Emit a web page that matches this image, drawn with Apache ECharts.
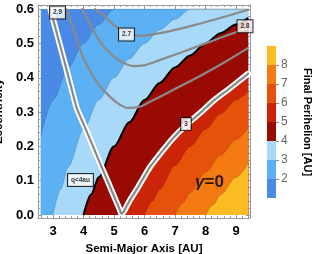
<!DOCTYPE html>
<html><head><meta charset="utf-8">
<script src="https://cdn.jsdelivr.net/npm/echarts@6/dist/echarts.min.js"></script>
<style>html,body{margin:0;padding:0;background:#fff}#c{width:312px;height:254px}</style>
</head><body><div id="c"></div>
<script>
// ---- data ----
const xTicks = [3, 4, 5, 6, 7, 8, 9];
const yTicks = [0, 0.1, 0.2, 0.3, 0.4, 0.5, 0.6];
const barTicks = [2, 3, 4, 5, 6, 7, 8];
const bandLevels = [1, 2, 3, 4, 5, 6, 7, 8, 9];
const bandColors = ['#4a8ae6', '#5cb0f4', '#a9d9f8', '#990b02', '#cc2406', '#e6520a', '#f47b12', '#fbbb22'];

// plotted region (semi-major axis, eccentricity)
const plotA = [2.6, 9.4];
const plotE = [0, 0.6];

// boundaries between perihelion bands, [a, e]
const edgeQ2 = [[2.6,0.23],[3.0,0.335],[3.5,0.43],[4.0,0.50],[4.5,0.555],[5.0,0.60],[5.5,0.60],[9.4,0.60]];
const edgeQ3 = [[3.0,0],[3.25,0.075],[3.5,0.14],[4.0,0.25],[4.5,0.335],[5.0,0.40],[5.5,0.455],[6.0,0.50],[6.5,0.54],[7.0,0.57],[7.5,0.60],[8.0,0.60],[9.4,0.60]];
const edgeQ4 = [[4.0,0],[4.25,0.06],[4.5,0.11],[5.0,0.20],[5.5,0.27],[6.0,0.335],[6.5,0.385],[7.0,0.43],[7.5,0.465],[8.0,0.50],[8.5,0.53],[9.0,0.555],[9.4,0.575]];
const edgeQ5 = [[5.28,0],[5.525,0.037],[5.754,0.069],[5.984,0.104],[6.18,0.133],[6.508,0.171],[6.934,0.217],[7.361,0.255],[7.82,0.290],[8.246,0.325],[8.803,0.363],[9.4,0.405]];
const edgeQ6 = [[6.0,0],[6.25,0.04],[6.5,0.075],[7.0,0.145],[7.5,0.20],[8.0,0.25],[8.5,0.295],[9.0,0.335],[9.4,0.36]];
const edgeQ7 = [[7.0,0],[7.25,0.035],[7.5,0.065],[8.0,0.125],[8.5,0.175],[9.0,0.22],[9.4,0.255]];
const edgeQ8 = [[8.0,0],[8.25,0.03],[8.5,0.06],[9.0,0.11],[9.4,0.15]];

// gray contours
const contour29 = [[3.43,0.60],[3.62,0.554],[3.79,0.507],[3.98,0.461],[4.21,0.420],[4.48,0.382],[4.77,0.353],[5.10,0.327],[5.46,0.312],[5.85,0.316],[6.18,0.330],[6.84,0.360],[7.82,0.405],[8.64,0.446],[9.40,0.487]];
const contour28 = [[3.95,0.60],[4.18,0.563],[4.44,0.519],[4.70,0.487],[4.97,0.464],[5.26,0.446],[5.62,0.434],[6.02,0.437],[6.51,0.452],[7.33,0.478],[8.15,0.505],[8.97,0.532],[9.40,0.546]];
const contour27 = [[4.38,0.60],[4.61,0.586],[4.87,0.563],[5.13,0.545],[5.43,0.531],[5.79,0.522],[6.18,0.525],[6.84,0.536],[7.66,0.554],[8.48,0.574],[9.40,0.598]];
const contour3 = [[2.915,0.60],[3.184,0.510],[3.446,0.423],[3.662,0.350],[3.777,0.312],[3.944,0.277],[4.223,0.219],[4.498,0.160],[4.777,0.102],[5.052,0.044],[5.193,0.015],[5.243,0.004],[5.311,0.009],[5.525,0.044],[5.754,0.076],[5.984,0.111],[6.180,0.140],[6.508,0.178],[6.934,0.224],[7.361,0.262],[7.820,0.297],[8.246,0.332],[8.803,0.370],[9.40,0.412]];

// label anchors [a, e, text]
const contourLabels = [[3.148,0.590,'2.9'],[5.41,0.526,'2.7'],[9.295,0.550,'2.8'],[7.36,0.265,'3'],[3.90,0.102,'q<4au']];
const gammaLabel = [[8.13,0.096,'γ=0']];

// ---- chart ----
const FONT = "'Liberation Sans', Arial, sans-serif";
const frameColor = '#999';
const frameA = [2.508, 9.459];
const frameE = [-0.0087, 0.612];

const xMinor = [];
for (let i = 13; i <= 47; i++) { if (i % 5 !== 0) xMinor.push(+(i * 0.2).toFixed(2)); }
const yMinor = [];
for (let i = 0; i <= 30; i++) { if (i % 5 !== 0) yMinor.push(+(i * 0.02).toFixed(2)); }

function frameX(pos, major) {
  return {
    gridIndex: 0, type: 'value', min: frameA[0], max: frameA[1], position: pos,
    axisLine: { show: major, onZero: false, lineStyle: { color: frameColor, width: 1 } },
    axisTick: { show: true, inside: true, length: major ? 4 : 2, customValues: major ? xTicks : xMinor, lineStyle: { color: frameColor } },
    axisLabel: (pos === 'bottom' && major) ? { show: true, customValues: xTicks, margin: 7, color: '#000', fontWeight: 'bold', fontSize: 13, fontFamily: FONT, formatter: v => String(Math.round(v)) } : { show: false },
    splitLine: { show: false },
    name: (pos === 'bottom' && major) ? 'Semi-Major Axis [AU]' : '',
    nameLocation: 'middle', nameGap: 23,
    nameTextStyle: { color: '#000', fontWeight: 'bold', fontSize: 11.5, fontFamily: FONT }
  };
}
function frameY(pos, major) {
  return {
    gridIndex: 0, type: 'value', min: frameE[0], max: frameE[1], position: pos,
    axisLine: { show: major, onZero: false, lineStyle: { color: frameColor, width: 1 } },
    axisTick: { show: true, inside: true, length: major ? 4 : 2, customValues: major ? yTicks : yMinor, lineStyle: { color: frameColor } },
    axisLabel: (pos === 'left' && major) ? { show: true, customValues: yTicks, margin: 4, color: '#000', fontWeight: 'bold', fontSize: 13, fontFamily: FONT, formatter: v => v.toFixed(1) } : { show: false },
    splitLine: { show: false },
    name: (pos === 'left' && major) ? 'Eccentricity' : '',
    nameLocation: 'middle', nameGap: 25,
    nameTextStyle: { color: '#000', fontWeight: 'bold', fontSize: 11.5, fontFamily: FONT }
  };
}

function band(data, color, lineColor, lineWidth) {
  return {
    type: 'line', xAxisIndex: 0, yAxisIndex: 0, data: data, symbol: 'none', showSymbol: false,
    smooth: 0.3, smoothMonotone: 'x', silent: true, z: 2,
    lineStyle: { color: lineColor, width: lineWidth },
    areaStyle: { color: color, opacity: 1 }
  };
}
function contour(data, color, width, z) {
  return {
    type: 'line', xAxisIndex: 0, yAxisIndex: 0, data: data, symbol: 'none', showSymbol: false,
    smooth: 0.3, silent: true, z: z, lineStyle: { color: color, width: width, cap: 'round', join: 'round' }
  };
}

const thin = 'rgba(0,0,0,0.28)';
const series = [
  band([[plotA[0], plotE[1]], [plotA[1], plotE[1]]], bandColors[0], 'rgba(0,0,0,0)', 0),
  band(edgeQ2, bandColors[1], thin, 0.6),
  band(edgeQ3, bandColors[2], thin, 0.6),
  band(edgeQ4, bandColors[3], '#000', 2),
  band(edgeQ5, bandColors[4], thin, 0.6),
  band(edgeQ6, bandColors[5], thin, 0.6),
  band(edgeQ7, bandColors[6], thin, 0.6),
  band(edgeQ8, bandColors[7], thin, 0.6),
  contour(contour29, '#8a8a8a', 2.2, 3),
  contour(contour28, '#8a8a8a', 2.2, 3),
  contour(contour27, '#8a8a8a', 2.2, 3),
  contour(contour3, '#ffffff', 6, 3),
  contour(contour3, '#8a8a8a', 2.2, 4),
  {
    type: 'scatter', xAxisIndex: 0, yAxisIndex: 0, data: contourLabels, symbolSize: 0, silent: true, z: 6,
    label: { show: true, position: 'inside', formatter: p => p.data[2], color: '#000', fontSize: 6.5, fontWeight: 'bold', fontFamily: FONT,
      backgroundColor: '#fff', borderColor: '#000', borderWidth: 1, padding: [3, 3, 2, 3] }
  },
  {
    type: 'scatter', xAxisIndex: 0, yAxisIndex: 0, data: gammaLabel, symbolSize: 0, silent: true, z: 6,
    label: { show: true, position: 'inside', formatter: '{g|γ}{n|=0}',
      rich: { g: { fontStyle: 'italic', fontWeight: 'bold', fontSize: 17, color: '#000', fontFamily: FONT },
              n: { fontSize: 17, fontWeight: 'bold', color: '#000', fontFamily: FONT } } }
  },
  { type: 'bar', xAxisIndex: 4, yAxisIndex: 4, stack: 'cb', data: [bandLevels[0]], barWidth: '100%', itemStyle: { color: 'rgba(0,0,0,0)' }, silent: true }
];
for (let i = 0; i < bandColors.length; i++) {
  series.push({ type: 'bar', xAxisIndex: 4, yAxisIndex: 4, stack: 'cb', data: [bandLevels[i + 1] - bandLevels[i]],
    barWidth: '100%', itemStyle: { color: bandColors[i] }, silent: true });
}

const option = {
  animation: false,
  backgroundColor: '#fff',
  grid: [
    { left: 38, right: 62, top: 5, bottom: 36, outerBoundsMode: 'none', containLabel: false },
    { left: 267, width: 9, top: 46, height: 152, outerBoundsMode: 'none', containLabel: false }
  ],
  xAxis: [
    frameX('bottom', true), frameX('bottom', false), frameX('top', true), frameX('top', false),
    { gridIndex: 1, type: 'category', data: ['bar'], show: false }
  ],
  yAxis: [
    frameY('left', true), frameY('left', false), frameY('right', true), frameY('right', false),
    { gridIndex: 1, type: 'value', min: bandLevels[0], max: bandLevels[bandLevels.length - 1], position: 'right',
      axisLine: { show: false }, splitLine: { show: false },
      axisTick: { show: true, inside: false, length: 3, customValues: barTicks, lineStyle: { color: '#888' } },
      axisLabel: { show: true, customValues: barTicks, margin: 5, color: '#666', fontSize: 12, fontFamily: FONT },
      name: 'Final Perihelion [AU]', nameLocation: 'middle', nameGap: 26, nameRotate: -90,
      nameTextStyle: { color: '#000', fontWeight: 'bold', fontSize: 11, fontFamily: FONT } }
  ],
  series: series
};
const chart = echarts.init(document.getElementById('c'));
chart.setOption(option);
</script>
</body></html>
